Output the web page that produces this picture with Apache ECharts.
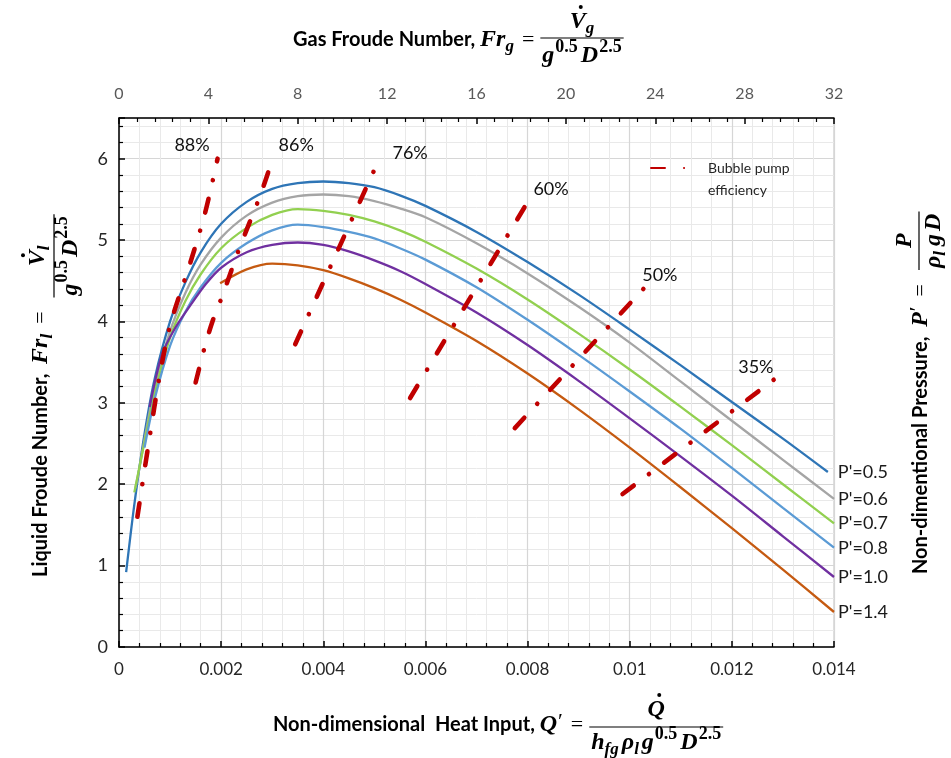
<!DOCTYPE html>
<html>
<head>
<meta charset="utf-8">
<script src="https://cdn.jsdelivr.net/npm/echarts@6/dist/echarts.min.js"></script>
<style>
  html, body { margin: 0; padding: 0; background: #fff; }
  #chart { width: 951px; height: 758px; }
</style>
</head>
<body>
<div id="chart"></div>
<script>
// axis ticks
const qTicks = [0, 0.002, 0.004, 0.006, 0.008, 0.01, 0.012, 0.014];
const frgTicks = [0, 4, 8, 12, 16, 20, 24, 28, 32];
const frlTicks = [0, 1, 2, 3, 4, 5, 6];
const frlMax = 6.5;

// liquid Froude number vs Q' for each pressure  [Q', Fr_l]
const p05 = [[0.00014,0.92],[0.0003,1.75],[0.0005,2.62],[0.0007,3.3],[0.001,4.0],[0.0013,4.48],[0.0016,4.85],[0.002,5.2],[0.0025,5.47],[0.003,5.63],[0.0035,5.7],[0.004,5.72],[0.0045,5.7],[0.005,5.65],[0.0055,5.55],[0.006,5.42],[0.007,5.1],[0.008,4.73],[0.009,4.33],[0.01,3.9],[0.011,3.46],[0.012,3.01],[0.013,2.56],[0.01388,2.15]];
const p06 = [[0.00032,1.95],[0.0004,2.2],[0.0005,2.55],[0.0007,3.2],[0.001,3.88],[0.0013,4.35],[0.0016,4.7],[0.002,5.03],[0.0025,5.3],[0.003,5.46],[0.0035,5.54],[0.004,5.56],[0.0045,5.54],[0.005,5.48],[0.0055,5.39],[0.006,5.28],[0.007,4.96],[0.008,4.59],[0.009,4.18],[0.01,3.74],[0.011,3.26],[0.012,2.78],[0.013,2.3],[0.014,1.82]];
const p07 = [[0.0003,1.9],[0.0005,2.52],[0.0007,3.12],[0.001,3.8],[0.0013,4.25],[0.0016,4.58],[0.002,4.9],[0.0025,5.15],[0.003,5.31],[0.0035,5.38],[0.004,5.36],[0.0045,5.31],[0.005,5.23],[0.0055,5.12],[0.006,4.98],[0.007,4.65],[0.008,4.27],[0.009,3.85],[0.01,3.41],[0.011,2.95],[0.012,2.48],[0.013,2.0],[0.014,1.52]];
const p08 = [[0.0005,2.45],[0.0007,3.05],[0.001,3.7],[0.0013,4.12],[0.0016,4.42],[0.002,4.72],[0.0025,4.96],[0.003,5.12],[0.0035,5.19],[0.004,5.16],[0.0045,5.1],[0.005,5.02],[0.0055,4.9],[0.006,4.76],[0.007,4.42],[0.008,4.02],[0.009,3.59],[0.01,3.14],[0.011,2.68],[0.012,2.2],[0.013,1.71],[0.014,1.22]];
const p10 = [[0.0006,2.95],[0.00084,3.59],[0.0011,3.92],[0.0014,4.2],[0.0017,4.46],[0.002,4.66],[0.0025,4.85],[0.003,4.94],[0.0035,4.97],[0.004,4.94],[0.0045,4.86],[0.005,4.75],[0.0055,4.62],[0.006,4.46],[0.007,4.11],[0.008,3.71],[0.009,3.27],[0.01,2.81],[0.011,2.34],[0.012,1.86],[0.013,1.36],[0.014,0.86]];
const p14 = [[0.00198,4.47],[0.0025,4.64],[0.003,4.71],[0.0035,4.69],[0.004,4.63],[0.0045,4.53],[0.005,4.41],[0.0055,4.27],[0.006,4.11],[0.007,3.76],[0.008,3.36],[0.009,2.92],[0.01,2.45],[0.011,1.96],[0.012,1.46],[0.013,0.95],[0.014,0.43]];
const pNames = ["P'=0.5", "P'=0.6", "P'=0.7", "P'=0.8", "P'=1.0", "P'=1.4"];
const pColors = ['#2e75b6', '#a5a5a5', '#92d050', '#5b9bd5', '#7030a0', '#c55a11'];

// bubble pump efficiency lines
const e88 = [[0.00036,1.6],[0.00058,2.5],[0.0008,3.35],[0.001,3.95],[0.00121,4.37],[0.00138,4.69],[0.00168,5.32],[0.00193,6.0]];
const e86 = [[0.0015,3.25],[0.00168,3.69],[0.00183,4.0],[0.00202,4.31],[0.00237,4.92],[0.00276,5.54],[0.00301,6.0]];
const e76 = [[0.00345,3.72],[0.00507,5.96]];
const e60 = [[0.0057,3.06],[0.00808,5.55]];
const e50 = [[0.00775,2.69],[0.0104,4.49]];
const e35 = [[0.00986,1.88],[0.01298,3.36]];
const effNames = ['88%', '86%', '76%', '60%', '50%', '35%'];
const effLabelQ = [0.00143, 0.00347, 0.0057, 0.00846, 0.01059, 0.01247];
const effLabelFr = [6.16, 6.16, 6.07, 5.62, 4.57, 3.44];

const effName = 'Bubble pump efficiency';
const RED = '#c00000';

// ---- text helpers for the formula titles
const cv = document.createElement('canvas').getContext('2d');
function tw(t, f) { cv.font = f; return cv.measureText(t).width; }

const fBold = 'bold 20px Lato';
const fMath = 'italic bold 24px "Liberation Serif"';
const fSub = 'italic bold 17px "Liberation Serif"';
const fSup = 'bold 18px "Liberation Serif"';
const fEq = '22px "Liberation Serif"';

function seq(parts, x0, y0) {
  let x = x0;
  const els = [];
  parts.forEach(function (p) {
    els.push({ type: 'text', x: x, y: y0 + (p[2] || 0),
      style: { text: p[0], font: p[1], fill: '#000', textVerticalAlign: 'middle' } });
    x += tw(p[0], p[1]) + (p[3] || 0);
  });
  return { els: els, end: x };
}
function widthOf(parts) {
  return parts.reduce(function (s, p) { return s + tw(p[0], p[1]) + (p[3] || 0); }, 0);
}
// fraction: num/den parts, offsets relative to row center
function frac(num, den, x0, y0, off, dotOnFirst) {
  const wN = widthOf(num), wD = widthOf(den);
  const w = Math.max(wN, wD) + 4;
  const xn = x0 + (w - wN) / 2;
  const n = seq(num, xn, y0 + off[0]);
  const d = seq(den, x0 + (w - wD) / 2, y0 + off[2]);
  const els = n.els.concat(d.els);
  els.push({ type: 'line', shape: { x1: x0, y1: y0 + off[1], x2: x0 + w, y2: y0 + off[1] },
    style: { stroke: '#000', lineWidth: 1.2 } });
  if (dotOnFirst) {
    els.push({ type: 'circle', shape: { cx: xn + tw(num[0][0], num[0][1]) / 2 + 3, cy: y0 + off[0] - 15, r: 2 },
      style: { fill: '#000' } });
  }
  return els;
}
function title(lead, fracNum, fracDen, x0, y0, off, dot, gap) {
  const s = seq(lead, x0, y0);
  return s.els.concat(frac(fracNum, fracDen, s.end + gap, y0, off, dot));
}

const denG = [['g', fMath, 0, 1], ['0.5', fSup, -9, 3], ['D', fMath, 0, 1], ['2.5', fSup, -9]];

const topTitle = title(
  [['Gas Froude Number, ', fBold], ['Fr', fMath], ['g', fSub, 7, 8], ['=', fEq, 0, 0]],
  [['V', fMath], ['g', fSub, 7]], denG, 293, 40, [-18, -2, 16], true, 6);

const bottomTitle = title(
  [['Non-dimensional  Heat Input, ', fBold], ['Q', fMath, 0, 1], ['\u2032', fEq, -3, 8], ['=', fEq, 0, 0]],
  [['Q', fMath]],
  [['h', fMath], ['fg', fSub, 7, 3], ['\u03c1', fMath], ['l', fSub, 7, 3], ['g', fMath, 0, 1], ['0.5', fSup, -9, 3], ['D', fMath, 0, 1], ['2.5', fSup, -9]],
  273, 725, [-15, 2, 18], true, 6);

const leftTitle = title(
  [['Liquid Froude Number,  ', fBold], ['Fr', fMath], ['l', fSub, 7, 10], ['=', fEq, 0, 0]],
  [['V', fMath], ['l', fSub, 7]], denG, 0, 0, [-3, 13, 30], true, 14);

const rightTitle = title(
  [['Non-dimentional Pressure,  ', fBold], ['P', fMath, 0, 1], ['\u2032', fEq, -3, 10], ['=', fEq, 0, 0]],
  [['P', fMath]],
  [['\u03c1', fMath], ['l', fSub, 7, 5], ['g', fMath, 0, 3], ['D', fMath]], 0, 0, [-16, -2, 13], false, 14);

// ---- series
const curves = [p05, p06, p07, p08, p10, p14];
const series = curves.map(function (d, i) {
  return {
    name: pNames[i], type: 'line', data: d, smooth: 0.3, symbol: 'none',
    lineStyle: { color: pColors[i], width: 2.3 }, itemStyle: { color: pColors[i] },
    z: 3,
    endLabel: { show: true, formatter: pNames[i], distance: i === 0 ? 10 : 4,
      fontFamily: 'Lato', fontSize: 18, color: '#1a1a1a' }
  };
});
[e88, e86, e76, e60, e50, e35].forEach(function (d, i) {
  series.push({
    name: effName, type: 'line', data: d, smooth: i < 2 ? 0.3 : false, symbol: 'none',
    lineStyle: { color: RED, width: 4.6, type: [14, 19, 0.1, 19], cap: 'round' },
    itemStyle: { color: RED }, z: 5
  });
});
series.push({
  type: 'scatter', symbol: 'circle', symbolSize: 0.1, itemStyle: { color: '#fff', opacity: 1 }, z: 6,
  data: effNames.map(function (n, i) { return { name: n, value: [effLabelQ[i], effLabelFr[i]] }; }),
  label: { show: true, position: 'inside', formatter: '{b}', fontFamily: 'Lato', fontSize: 18,
    color: '#111', textBorderWidth: 0 }
});

const chart = echarts.init(document.getElementById('chart'));
chart.setOption({
  animation: false,
  grid: { left: 119, right: 117, top: 118, bottom: 111, show: true, borderColor: '#bfbfbf', borderWidth: 1 },
  legend: {
    data: [effName], left: 645, top: 130, itemWidth: 52, itemHeight: 10,
    itemStyle: { color: 'rgba(0,0,0,0)', borderWidth: 0 },
    formatter: function () { return '\nBubble pump\nefficiency'; },
    textStyle: { fontFamily: 'Lato', fontSize: 14, color: '#262626', lineHeight: 22 }
  },
  xAxis: [{
    type: 'value', position: 'bottom', min: qTicks[0], max: qTicks[qTicks.length - 1], interval: qTicks[1] - qTicks[0],
    axisLine: { lineStyle: { color: '#000', width: 1.5 } },
    axisTick: { inside: true, length: 6, lineStyle: { color: '#000', width: 1.5 } },
    minorTick: { show: true, splitNumber: 5, length: 4, lineStyle: { color: '#000', width: 1.2 } },
    splitLine: { show: true, lineStyle: { color: '#d6d6d6', width: 1.2 } },
    minorSplitLine: { show: true, lineStyle: { color: '#e9e9e9', width: 1 } },
    axisLabel: { margin: 14, fontFamily: 'Lato', fontSize: 17, color: '#262626' }
  }, {
    type: 'value', position: 'top', min: frgTicks[0], max: frgTicks[frgTicks.length - 1], interval: frgTicks[1] - frgTicks[0],
    axisLine: { show: true, lineStyle: { color: '#000', width: 1.5 } },
    axisTick: { show: true, inside: true, length: 6, lineStyle: { color: '#000', width: 1.5 } },
    minorTick: { show: true, splitNumber: 5, length: 4, lineStyle: { color: '#000', width: 1.2 } },
    splitLine: { show: false },
    axisLabel: { margin: 16, fontFamily: 'Lato', fontSize: 16, color: '#595959' }
  }],
  yAxis: [{
    type: 'value', min: frlTicks[0], max: frlMax, interval: frlTicks[1] - frlTicks[0],
    axisLine: { show: true, lineStyle: { color: '#000', width: 1.5 } },
    axisTick: { show: true, inside: true, length: 6, lineStyle: { color: '#000', width: 1.5 } },
    minorTick: { show: true, splitNumber: 5, length: 4, lineStyle: { color: '#000', width: 1.2 } },
    splitLine: { show: true, lineStyle: { color: '#d6d6d6', width: 1.2 } },
    minorSplitLine: { show: true, lineStyle: { color: '#e9e9e9', width: 1 } },
    axisLabel: { margin: 11, fontFamily: 'Lato', fontSize: 18, color: '#262626',
      formatter: function (v) { return v > frlTicks[frlTicks.length - 1] ? '' : v; } }
  }],
  series: series,
  graphic: [
    { type: 'group', x: 0, y: 0, children: topTitle.concat(bottomTitle) },
    { type: 'group', x: 41, y: 577, rotation: Math.PI / 2, children: leftTitle },
    { type: 'group', x: 921, y: 574, rotation: Math.PI / 2, children: rightTitle }
  ]
});
</script>
</body>
</html>
